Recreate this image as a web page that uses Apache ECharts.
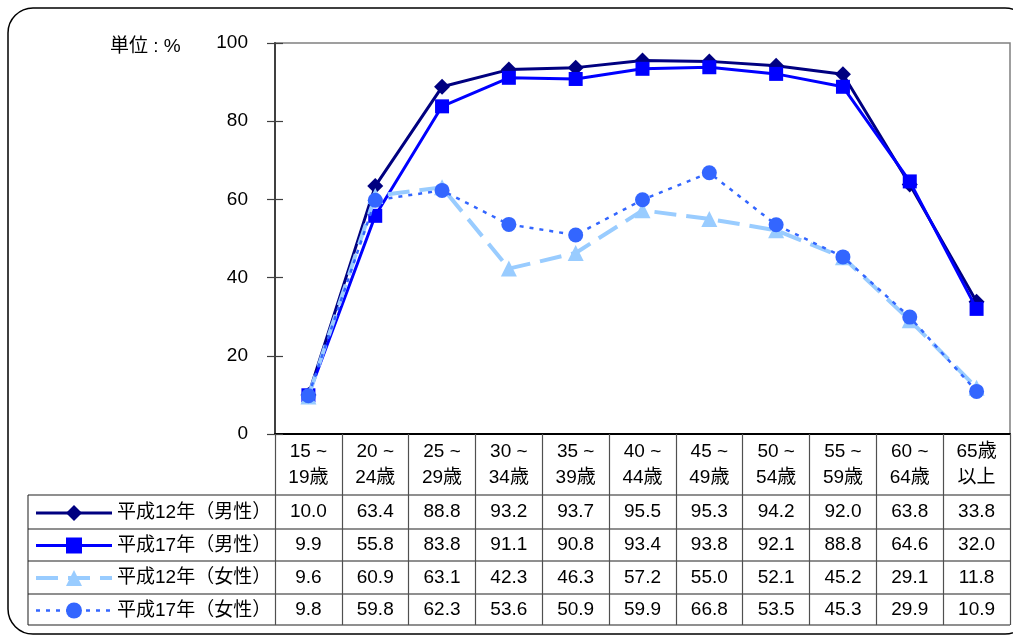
<!DOCTYPE html>
<html>
<head>
<meta charset="utf-8">
<script src="https://cdn.jsdelivr.net/npm/echarts@6/dist/echarts.min.js"></script>
<style>
html,body{margin:0;padding:0;background:#fff;}
#c{width:1013px;height:639px;}
</style>
</head>
<body>
<div id="c"></div>
<script>
const categories = ['15 ~\n19歳', '20 ~\n24歳', '25 ~\n29歳', '30 ~\n34歳', '35 ~\n39歳', '40 ~\n44歳', '45 ~\n49歳', '50 ~\n54歳', '55 ~\n59歳', '60 ~\n64歳', '65歳\n以上'];
const seriesNames = ['平成12年（男性）', '平成17年（男性）', '平成12年（女性）', '平成17年（女性）'];
const male2000 = [10.0, 63.4, 88.8, 93.2, 93.7, 95.5, 95.3, 94.2, 92.0, 63.8, 33.8];
const male2005 = [9.9, 55.8, 83.8, 91.1, 90.8, 93.4, 93.8, 92.1, 88.8, 64.6, 32.0];
const female2000 = [9.6, 60.9, 63.1, 42.3, 46.3, 57.2, 55.0, 52.1, 45.2, 29.1, 11.8];
const female2005 = [9.8, 59.8, 62.3, 53.6, 50.9, 59.9, 66.8, 53.5, 45.3, 29.9, 10.9];
const yMin = 0, yMax = 100, yInterval = 20;
const unitLabel = '単位 : %';

const FONT = '"Liberation Sans", Arial, "Noto Sans CJK JP", sans-serif';
const FS = 19;
const W = 1013, H = 639;
const gridLeft = 275, gridRight = 1010, gridTop = 43, gridBottom = 434;
const rowLines = [495, 529, 561, 594, 625];
const tableLeft = 28;
const allData = [male2000, male2005, female2000, female2005];

const chart = echarts.init(document.getElementById('c'));

const valueAxes = allData.map((arr, i) => ({
  type: 'category',
  gridIndex: 0,
  position: 'bottom',
  offset: (rowLines[i] + rowLines[i + 1]) / 2 - gridBottom,
  data: arr.map(v => v.toFixed(1)),
  axisLine: { show: false },
  axisTick: { show: false },
  axisLabel: { interval: 0, margin: 0, verticalAlign: 'middle', fontSize: FS, color: '#000', fontFamily: FONT }
}));

const styles = [
  { color: '#000080', width: 3, type: 'solid', symbol: 'diamond', size: 16 },
  { color: '#0000FF', width: 3, type: 'solid', symbol: 'rect', size: 14 },
  { color: '#99CCFF', width: 4, type: [22, 10], symbol: 'triangle', size: 16 },
  { color: '#3366FF', width: 2.5, type: [4, 6], symbol: 'circle', size: 15 }
];

const graphics = [
  { type: 'rect', shape: { x: 8, y: 8, width: 1022, height: 626, r: 25 }, style: { fill: 'none', stroke: '#000', lineWidth: 1.5 }, z: 0 },
  { type: 'line', shape: { x1: tableLeft, y1: rowLines[0], x2: tableLeft, y2: rowLines[4] }, style: { stroke: '#404040', lineWidth: 1.2 } }
];
rowLines.forEach(y => graphics.push({ type: 'line', shape: { x1: tableLeft, y1: y, x2: gridRight, y2: y }, style: { stroke: '#202020', lineWidth: 1.2 } }));

chart.setOption({
  animation: false,
  backgroundColor: '#fff',
  textStyle: { fontFamily: FONT },
  title: { text: unitLabel, left: 105, top: 32, textStyle: { fontSize: FS, fontWeight: 'normal', color: '#000', fontFamily: FONT } },
  grid: { left: gridLeft, right: W - gridRight, top: gridTop, bottom: H - gridBottom, show: true, borderColor: '#808080', borderWidth: 1.5 },
  legend: {
    orient: 'vertical', left: 29, top: 497, itemWidth: 76, itemHeight: 20, itemGap: 10.5,
    textStyle: { fontSize: FS, lineHeight: 22, color: '#000', fontFamily: FONT },
    data: seriesNames.map((n, i) => ({ name: n, lineStyle: { width: styles[i].width, color: styles[i].color, type: styles[i].type } }))
  },
  xAxis: [{
    type: 'category',
    data: categories,
    boundaryGap: true,
    axisLine: { lineStyle: { color: '#000', width: 2 } },
    axisTick: { show: true, interval: 0, length: rowLines[4] - gridBottom, lineStyle: { color: '#505050', width: 1.2 } },
    axisLabel: { interval: 0, margin: 31, verticalAlign: 'middle', lineHeight: 26, fontSize: FS, color: '#000', fontFamily: FONT }
  }].concat(valueAxes),
  yAxis: [{
    type: 'value', min: yMin, max: yMax, interval: yInterval,
    axisLine: { show: true, lineStyle: { color: '#404040', width: 2 } },
    axisTick: { show: true, inside: true, length: 8, lineStyle: { color: '#404040', width: 1.2 } },
    axisLabel: { margin: 27, fontSize: FS, color: '#000', fontFamily: FONT },
    splitLine: { show: false }
  }, {
    type: 'value', min: yMin, max: yMax, interval: yInterval, position: 'left',
    axisLine: { show: false },
    axisTick: { show: true, inside: false, length: 8, lineStyle: { color: '#404040', width: 1.2 } },
    axisLabel: { show: false },
    splitLine: { show: false }
  }],
  graphic: graphics,
  series: allData.map((arr, i) => ({
    name: seriesNames[i],
    type: 'line',
    data: arr,
    symbol: styles[i].symbol,
    symbolSize: styles[i].size,
    lineStyle: { color: styles[i].color, width: styles[i].width, type: styles[i].type },
    itemStyle: { color: styles[i].color },
    z: 3 + i
  }))
});
</script>
</body>
</html>
